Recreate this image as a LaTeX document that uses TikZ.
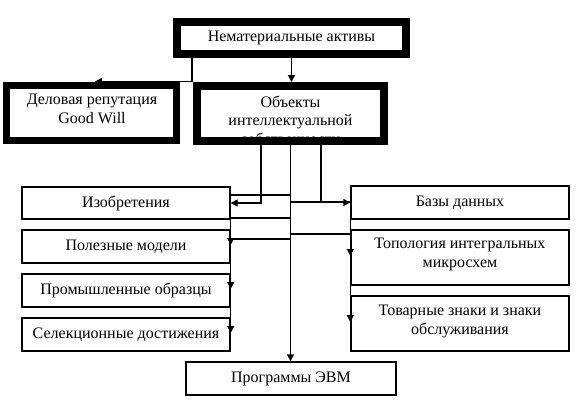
\documentclass[tikz,border=0pt]{standalone}
\usepackage{fontspec}
\setmainfont{Liberation Serif}
\usetikzlibrary{arrows.meta,calc}
\begin{document}
\begin{tikzpicture}[x=1pt,y=-1pt,
  every node/.style={font=\fontsize{16}{18.5}\selectfont, text=black},
  box/.style={draw, line width=1.4pt, inner sep=0pt, align=center},
  thickbox/.style={draw, line width=#1, inner sep=0pt},
  lbl/.style={inner sep=0pt, align=center},
  conn/.style={line width=1.4pt},
  arr/.style={conn, -{Triangle[length=7pt,width=7pt]}}]
\useasboundingbox[fill=white] (0,0) rectangle (582,407);

% thick boxes
\node[thickbox=8pt, minimum width=229pt, minimum height=32pt] (top) at (291.5,38) {};
\node[lbl] (toptxt) at (top.center) {Нематериальные активы};
\node[thickbox=7pt, minimum width=170pt, minimum height=55pt] (gw) at (91.5,113) {};
\node[lbl] (gwtxt) at (92,109) {Деловая репутация\\Good Will};
\node[thickbox=8pt, minimum width=187pt, minimum height=55pt] (obj) at (290.5,113.5) {};
\node[lbl] (objtxt) at (290.5,120) {Объекты\\интеллектуальной\\собственности};

% left column
\node[box, minimum width=208pt, minimum height=32pt] (izo) at (126,203) {Изобретения};
\node[box, minimum width=208pt, minimum height=33pt] (pol) at (126,246.5) {Полезные модели};
\node[box, minimum width=208pt, minimum height=33pt] (pro) at (126,290.5) {Промышленные образцы};
\node[box, minimum width=208pt, minimum height=33pt] (sel) at (126,334.5) {Селекционные достижения};
% bottom
\node[box, minimum width=210pt, minimum height=33pt] (evm) at (291,378.5) {Программы ЭВМ};
% right column
\node[box, minimum width=218pt, minimum height=33pt] (bd) at (460,202.5) {Базы данных};
\node[box, minimum width=218pt, minimum height=55pt] (top2) at (460,257.5) {};
\node[lbl] (toptxt2) at (460,254.5) {Топология интегральных\\микросхем};
\node[box, minimum width=218pt, minimum height=55pt] (tov) at (460,323.5) {};
\node[lbl] (tovtxt) at (460,321.5) {Товарные знаки и знаки\\обслуживания};

% connectors from the top box
\draw[arr] (top.south) -- (top.south |- obj.north);
\draw[arr] ($(top.south west)+(19,0)$) |- ($(gw.north west)+(92,-0.5)$);

% connectors from the objects box
\draw[arr] ($(obj.south west)+(68,0)$) |- (izo.east);
\draw[arr] ($(obj.south west)+(128,0)$) |- (bd.west);
\draw[arr] (obj.south) -- (obj.south |- evm.north);

% left branches
\draw[arr] (obj.south |- 0,195) -- (izo.east |- 0,195) -- (izo.east |- 0,245);
\draw[arr] (obj.south |- 0,218) -- (izo.east |- 0,218) -- (izo.east |- 0,289);
\draw[arr] (obj.south |- 0,239) -- (izo.east |- 0,239) -- (izo.east |- 0,333);
% right branches
\draw[arr] (obj.south |- 0,202) -- (bd.west |- 0,202) -- (bd.west |- 0,256);
\draw[arr] (obj.south |- 0,234) -- (bd.west |- 0,234) -- (bd.west |- 0,322);
\end{tikzpicture}
\end{document}
